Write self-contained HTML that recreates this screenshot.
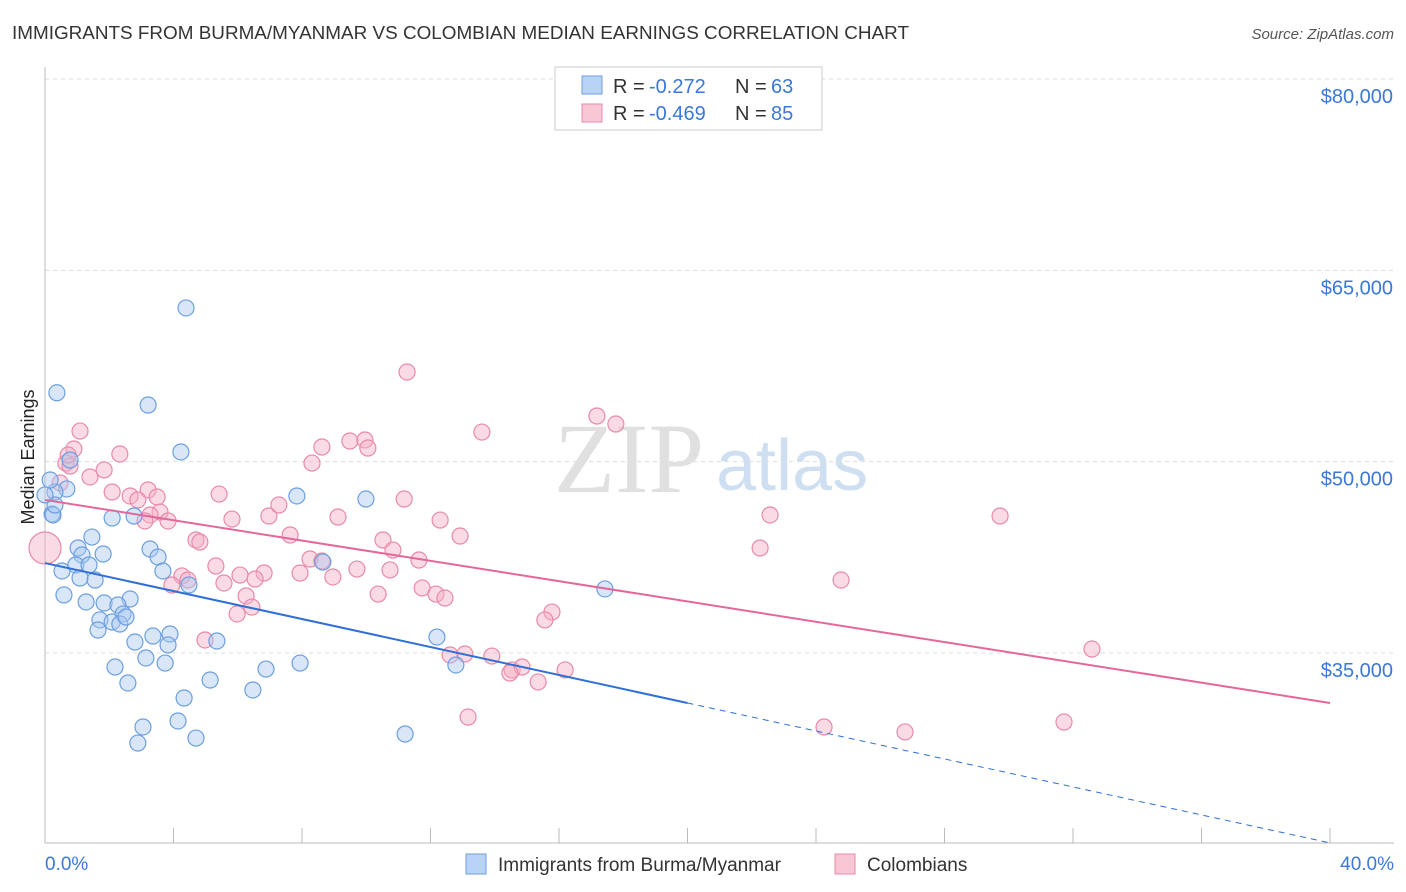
<!DOCTYPE html>
<html><head><meta charset="utf-8">
<style>
body{margin:0;background:#fff;font-family:"Liberation Sans",sans-serif;}
#wrap{position:relative;width:1406px;height:892px;overflow:hidden;}
</style></head>
<body>
<div id="wrap">
<svg id="svg" width="1406" height="892" xmlns="http://www.w3.org/2000/svg">
<text x="12" y="39" font-size="18" fill="#333" textLength="897" lengthAdjust="spacingAndGlyphs">IMMIGRANTS FROM BURMA/MYANMAR VS COLOMBIAN MEDIAN EARNINGS CORRELATION CHART</text>
<text x="1394" y="39" font-size="15" fill="#555" font-style="italic" text-anchor="end">Source: ZipAtlas.com</text>
<text x="554" y="492" font-size="100" fill="#e0e0e0" font-family="Liberation Serif,serif">ZIP</text>
<text x="716" y="490" font-size="72" fill="#cfdff2">atlas</text>
<text transform="translate(34,457) rotate(-90)" font-size="18" fill="#222" text-anchor="middle">Median Earnings</text>
<g id="grid"></g><g id="pts"></g><g id="trend"></g>
<g>
<rect x="555" y="67" width="267" height="63" fill="#fff" stroke="#ccc"/>
<rect x="582" y="76" width="20" height="18" fill="#b8d3f5" stroke="#6c9fe0"/>
<rect x="582" y="104" width="20" height="18" fill="#f8c6d5" stroke="#e88aa8"/>
<text x="613" y="93" font-size="20" fill="#333">R =</text>
<text x="649" y="93" font-size="20" fill="#3b78d8">-0.272</text>
<text x="735" y="93" font-size="20" fill="#333">N =</text>
<text x="771" y="93" font-size="20" fill="#3b78d8">63</text>
<text x="613" y="120" font-size="20" fill="#333">R =</text>
<text x="649" y="120" font-size="20" fill="#3b78d8">-0.469</text>
<text x="735" y="120" font-size="20" fill="#333">N =</text>
<text x="771" y="120" font-size="20" fill="#3b78d8">85</text>
</g>
<g>
<rect x="466" y="854" width="20" height="20" fill="#b8d3f5" stroke="#6c9fe0"/>
<text x="498" y="871" font-size="19" fill="#333">Immigrants from Burma/Myanmar</text>
<rect x="835" y="854" width="20" height="20" fill="#f8c6d5" stroke="#e88aa8"/>
<text x="867" y="871" font-size="19" fill="#333">Colombians</text>
</g>
<text x="45" y="870" font-size="19" fill="#3b78d8">0.0%</text>
<text x="1394" y="870" font-size="19" fill="#3b78d8" text-anchor="end">40.0%</text>
</svg>
</div>
<script>
const yTicks=[80000,65000,50000,35000];
const yTickLabels=["$80,000","$65,000","$50,000","$35,000"];
const blueX=[0.37,3.21,4.39,4.23,0.78,0.68,0.31,0.22,0.16,0.25,7.84,9.99,2.09,2.77,1.46,1.03,1.15,1.81,3.27,3.52,0.53,0.96,1.37,3.67,1.09,1.56,4.48,0.59,1.28,2.65,1.84,2.27,2.43,1.71,2.09,2.33,2.52,1.65,3.36,3.89,2.80,3.83,5.35,3.14,3.74,2.18,6.88,7.94,2.58,5.14,4.33,6.47,3.05,4.14,2.89,4.70,11.21,12.20,12.79,17.43,8.65,0.31,0.0];
const blueY=[55400,54440,62050,50760,50130,47860,47620,45900,48560,45820,47310,47070,45580,45740,44090,43230,42680,42760,43150,42520,41430,41900,41900,41430,40880,40720,40330,39550,39000,39230,38920,38760,38060,37590,37430,37270,37820,36800,36330,36490,35860,35630,35940,34610,34210,33900,33740,34210,32650,32880,31470,32100,29200,29670,27940,28330,28650,36250,34060,40020,42130,46600,47390];
const pinkX=[11.27,17.18,17.77,13.60,1.09,0.90,2.33,0.65,0.78,1.84,1.40,8.31,9.49,9.96,10.05,8.62,3.21,3.49,2.65,2.09,2.89,3.58,3.27,3.83,3.11,5.42,5.82,6.97,7.28,9.12,11.18,12.30,12.92,10.52,10.83,4.70,4.82,7.63,8.25,8.62,5.32,6.07,6.82,6.54,7.94,8.96,9.71,10.74,11.64,4.26,4.45,3.95,5.57,11.74,12.17,12.45,10.37,6.26,6.44,5.98,4.98,15.78,15.56,12.61,13.07,13.91,14.54,14.85,14.47,15.35,16.19,13.17,22.57,22.26,24.78,29.73,32.59,24.25,26.77,31.72,0.47,0.72,0.0];
const pinkY=[57030,53580,52950,52320,52400,50990,50600,49890,49660,49350,48800,49890,51620,51700,51070,51150,47780,47230,47310,47620,47000,46050,45820,45350,45350,47460,45500,45740,46600,45660,47070,45420,44170,43860,43070,43860,43700,44250,42370,42210,41820,41110,41270,40800,41270,40960,41580,41510,42290,41040,40720,40330,40490,40100,39620,39310,39620,39470,38600,38060,36020,38210,37590,34840,34920,34760,33670,33900,33430,32730,33670,29980,45820,43230,40720,45740,35310,29200,28810,29590,48330,50520,43230];
const blueTrend=[42050,-548.5];
const pinkTrend=[47000,-398];
const X=v=>45+v/40*1285;
const Y=v=>79+(80000-v)*191.33/15000;
const NS="http://www.w3.org/2000/svg";
function mk(tag,attrs,parent){const e=document.createElementNS(NS,tag);for(const k in attrs)e.setAttribute(k,attrs[k]);parent.appendChild(e);return e;}
const grid=document.getElementById('grid');
yTicks.forEach((t,i)=>{
  const l=mk('line',{x1:45,x2:1394,y1:Y(t),y2:Y(t),stroke:'#ddd','stroke-dasharray':'4,4'},grid);
  
  
  const tx=mk('text',{x:1393,y:Y(t)+24,'font-size':20,fill:'#3b78d8','text-anchor':'end'},grid);
  tx.textContent=yTickLabels[i];
  
  
});
const ax=mk('line',{x1:45,x2:45,y1:67,y2:843,stroke:'#bbb'},grid);


const bx=mk('line',{x1:45,x2:1394,y1:843,y2:843,stroke:'#bbb'},grid);


for(let i=0;i<=10;i++){
  const t=mk('line',{x1:X(i*4),x2:X(i*4),y1:828,y2:843,stroke:'#bbb'},grid);
  
  
}
const pts=document.getElementById('pts');
function drawPts(xs,ys,fill,stroke,name){
  xs.forEach((x,i)=>{
    const big=(x===0&&name==='pink-point');
    const c=mk('circle',{cx:X(x),cy:Y(ys[i]),r:big?16:8,fill:fill,'fill-opacity':0.45,stroke:stroke,'stroke-width':1.2},pts);
    
    
  });
}
drawPts(pinkX,pinkY,'#f5b0c6','#e88aa8','pink-point');
drawPts(blueX,blueY,'#a9c8f0','#6c9fe0','blue-point');
const tr=document.getElementById('trend');
const f=(c,x)=>c[0]+c[1]*x;
const b1=mk('line',{x1:X(0),y1:Y(f(blueTrend,0)),x2:X(20),y2:Y(f(blueTrend,20)),stroke:'#2f6fd6','stroke-width':2},tr);


const b2=mk('line',{x1:X(20),y1:Y(f(blueTrend,20)),x2:X(40),y2:Y(f(blueTrend,40)),stroke:'#2f6fd6','stroke-width':1,'stroke-dasharray':'6,5'},tr);


const p1=mk('line',{x1:X(0),y1:Y(f(pinkTrend,0)),x2:X(40),y2:Y(f(pinkTrend,40)),stroke:'#e4679a','stroke-width':2},tr);


</script>
</body></html>
